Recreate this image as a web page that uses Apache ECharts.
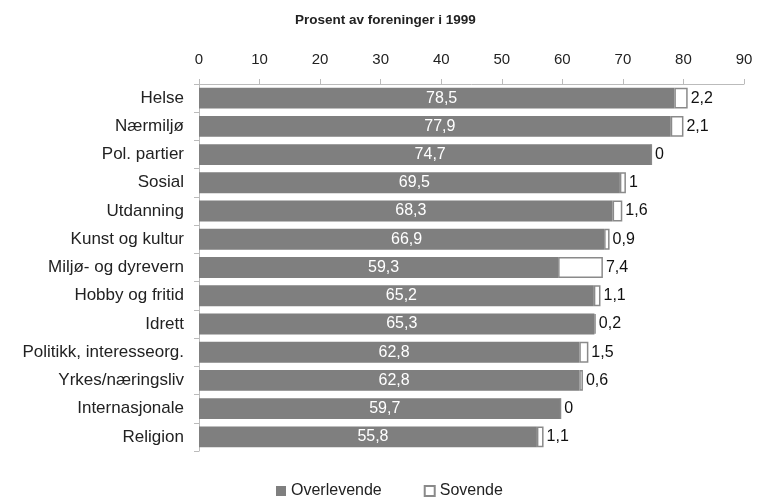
<!DOCTYPE html>
<html>
<head>
<meta charset="utf-8">
<script src="https://cdn.jsdelivr.net/npm/echarts@6/dist/echarts.min.js"></script>
<style>
    html, body { margin: 0; padding: 0; background: #fff; }
    #chart { width: 763px; height: 500px; }
</style>
</head>
<body>
<div id="chart"></div>
<script>
// kategorier, ovenfra og ned
var categories = ['Helse', 'Nærmiljø', 'Pol. partier', 'Sosial', 'Utdanning', 'Kunst og kultur',
    'Miljø- og dyrevern', 'Hobby og fritid', 'Idrett', 'Politikk, interesseorg.',
    'Yrkes/næringsliv', 'Internasjonale', 'Religion'];
var overlevende = [78.5, 77.9, 74.7, 69.5, 68.3, 66.9, 59.3, 65.2, 65.3, 62.8, 62.8, 59.7, 55.8];
var sovende = [2.2, 2.1, 0, 1, 1.6, 0.9, 7.4, 1.1, 0.2, 1.5, 0.6, 0, 1.1];
var xTicks = [0, 10, 20, 30, 40, 50, 60, 70, 80, 90];

var font = 'Liberation Sans, Arial, sans-serif';

function komma(v) {
    return String(v).replace('.', ',');
}

var chart = echarts.init(document.getElementById('chart'));
var option = {
    animation: false,
    textStyle: { fontFamily: font },
    title: {
        text: 'Prosent av foreninger i 1999',
        left: 290,
        top: 8,
        textStyle: { fontFamily: font, fontSize: 13.5, fontWeight: 'bold', color: '#222' }
    },
    legend: {
        top: 478,
        left: 271,
        itemWidth: 10,
        itemHeight: 10,
        itemGap: 42,
        textStyle: { fontFamily: font, fontSize: 16, color: '#222' },
        data: [
            { name: 'Overlevende', icon: 'rect' },
            { name: 'Sovende', icon: 'rect' }
        ]
    },
    grid: { left: 199, right: 19, top: 84, bottom: 49 },
    xAxis: {
        type: 'value',
        position: 'top',
        min: xTicks[0],
        max: xTicks[xTicks.length - 1],
        interval: 10,
        axisLine: { show: true, lineStyle: { color: '#bbb' } },
        axisTick: { show: true, length: 5, lineStyle: { color: '#bbb' } },
        splitLine: { show: false },
        axisLabel: { fontFamily: font, fontSize: 15, color: '#222', margin: 17 }
    },
    yAxis: {
        type: 'category',
        inverse: true,
        data: categories,
        axisLine: { show: true, lineStyle: { color: '#bbb' } },
        axisTick: { show: true, length: 5, lineStyle: { color: '#bbb' } },
        axisLabel: { fontFamily: font, fontSize: 17, color: '#222', margin: 15 }
    },
    series: [
        {
            name: 'Overlevende',
            type: 'bar',
            stack: 'a',
            data: overlevende,
            barCategoryGap: '26%',
            itemStyle: { color: '#7f7f7f' },
            label: {
                show: true,
                position: 'inside',
                offset: [5, 0],
                color: '#fff',
                fontFamily: font,
                fontSize: 16,
                formatter: function (p) { return komma(p.value); }
            }
        },
        {
            name: 'Sovende',
            type: 'bar',
            stack: 'a',
            data: sovende,
            itemStyle: { color: '#fff', borderColor: '#8a8a8a', borderWidth: 1.5 },
            label: {
                show: true,
                position: 'right',
                distance: 3,
                color: '#111',
                fontFamily: font,
                fontSize: 16,
                formatter: function (p) { return komma(p.value); }
            }
        }
    ]
};
chart.setOption(option);
</script>
</body>
</html>
